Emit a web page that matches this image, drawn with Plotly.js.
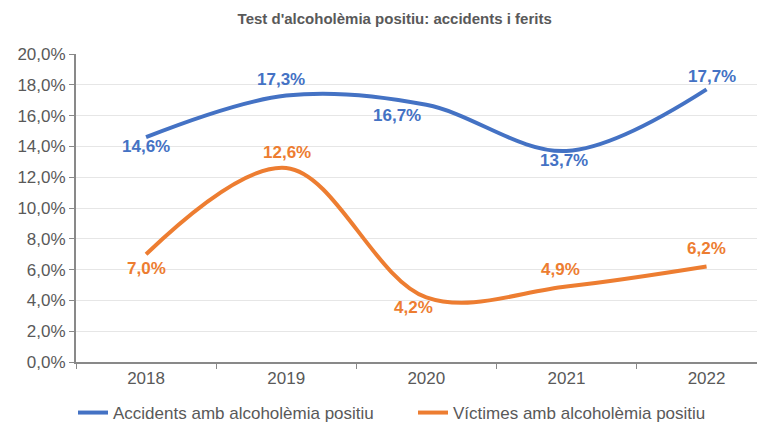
<!DOCTYPE html>
<html>
<head>
<meta charset="utf-8">
<script src="https://cdn.plot.ly/plotly-3.0.1.min.js"></script>
<style>
  html, body { margin: 0; padding: 0; background: #fff; }
  #chart { width: 762px; height: 427px; }
</style>
</head>
<body>
<div id="chart"></div>
<script>
// Data
const years = ['2018', '2019', '2020', '2021', '2022'];
const accidents = [14.6, 17.3, 16.7, 13.7, 17.7];
const victims = [7.0, 12.6, 4.2, 4.9, 6.2];
const yTicks = [0, 2, 4, 6, 8, 10, 12, 14, 16, 18, 20];

// label nudges in px (dx, dy), as placed in the original
const accidentsNudge = [[0, -9], [-5, 16], [-29, -11], [-2, -9], [5, 13]];
const victimsNudge = [[0, -14], [1, 15], [-13, -10], [-6, 17], [0, 18]];

const fmt = v => v.toFixed(1).replace('.', ',') + '%';

const blue = '#4472C4';
const orange = '#ED7D31';
const FONT = 'Liberation Sans, Arial';

const traces = [{
    x: years,
    y: accidents,
    type: 'scatter',
    mode: 'lines',
    name: 'Accidents amb alcoholèmia positiu',
    line: { color: blue, width: 4, shape: 'spline', smoothing: 1 }
}, {
    x: years,
    y: victims,
    type: 'scatter',
    mode: 'lines',
    name: 'Víctimes amb alcoholèmia positiu',
    line: { color: orange, width: 4, shape: 'spline', smoothing: 1 }
}];

// data labels (x given as category index)
function labels(vals, nudge, color) {
    return vals.map((v, i) => ({
        x: i,
        y: v,
        text: '<b>' + fmt(v) + '</b>',
        showarrow: false,
        xanchor: 'center',
        yanchor: 'middle',
        xshift: nudge[i][0],
        yshift: nudge[i][1],
        font: { family: FONT, size: 17, color: color }
    }));
}

const layout = {
    width: 762,
    height: 427,
    paper_bgcolor: '#fff',
    plot_bgcolor: '#fff',
    font: { family: FONT, size: 17, color: '#595959' },
    title: {
        text: "<b>Test d'alcoholèmia positiu: accidents i ferits</b>",
        font: { family: FONT, size: 15, color: '#595959' },
        x: 0.518,
        xanchor: 'center',
        y: 0.955,
        yanchor: 'middle'
    },
    margin: { l: 76, r: 5, t: 54, b: 65 },
    xaxis: {
        type: 'category',
        range: [-0.5, 4.36],
        automargin: false,
        showline: true,
        linecolor: '#898989',
        linewidth: 2,
        ticks: 'outside',
        tickson: 'boundaries',
        ticklen: 5,
        tickcolor: '#898989',
        showgrid: false,
        tickfont: { size: 17, color: '#595959' }
    },
    yaxis: {
        range: [0, 20],
        automargin: false,
        tickvals: yTicks,
        ticktext: yTicks.map(fmt),
        showline: true,
        linecolor: '#898989',
        linewidth: 2,
        ticks: 'outside',
        ticklen: 5,
        tickcolor: '#898989',
        showgrid: true,
        gridcolor: '#E6E6E6',
        gridwidth: 1,
        zeroline: false,
        tickfont: { size: 17, color: '#595959' }
    },
    legend: {
        orientation: 'h',
        xref: 'container',
        yref: 'container',
        x: 73 / 762,
        xanchor: 'left',
        y: 1 - 413 / 427,
        yanchor: 'middle',
        font: { size: 17, color: '#595959' },
        entrywidth: 295
    },
    annotations: labels(accidents, accidentsNudge, blue).concat(labels(victims, victimsNudge, orange)),
    showlegend: true
};

Plotly.newPlot('chart', traces, layout, { displayModeBar: false, staticPlot: true });
</script>
</body>
</html>
